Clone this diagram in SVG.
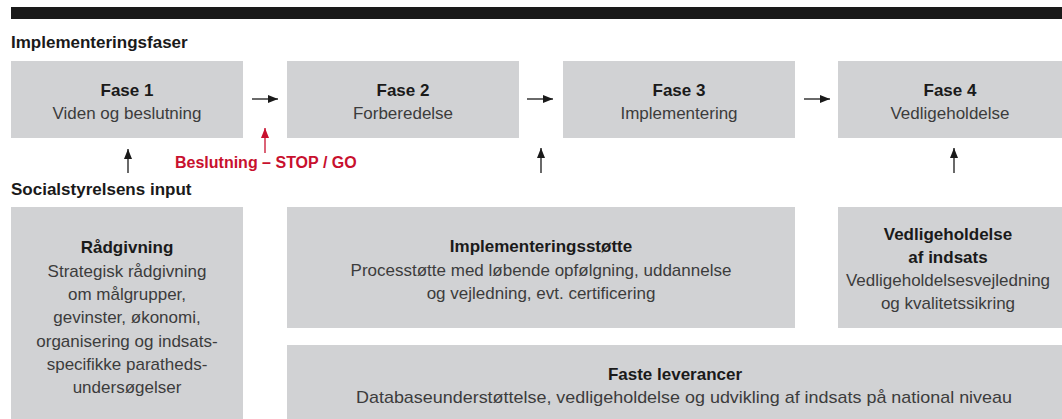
<svg xmlns="http://www.w3.org/2000/svg" width="1062" height="419" viewBox="0 0 1062 419">
  <defs>
    <style>
      .box { fill: #d1d2d4; }
      .hdr { font-family: "Liberation Sans", Arial, sans-serif; font-weight: bold; font-size: 17px; fill: #1a1a1a; }
      .ttl { font-family: "Liberation Sans", Arial, sans-serif; font-weight: bold; font-size: 17px; fill: #1a1a1a; text-anchor: middle; }
      .txt { font-family: "Liberation Sans", Arial, sans-serif; font-size: 17px; fill: #3c3c3c; text-anchor: middle; }
      .red { font-family: "Liberation Sans", Arial, sans-serif; font-weight: bold; font-size: 16px; fill: #c8102e; }
      .ln { stroke: #1a1a1a; stroke-width: 1.3; fill: none; }
      .lnr { stroke: #c8102e; stroke-width: 1.3; fill: none; }
    </style>
    <marker id="ah" viewBox="0 0 10 8" refX="10" refY="4" markerWidth="10" markerHeight="8" markerUnits="userSpaceOnUse" orient="auto">
      <path d="M0,0 L10,4 L0,8 Z" fill="#1a1a1a"/>
    </marker>
    <marker id="ahr" viewBox="0 0 10 8" refX="10" refY="4" markerWidth="10" markerHeight="8" markerUnits="userSpaceOnUse" orient="auto">
      <path d="M0,0 L10,4 L0,8 Z" fill="#c8102e"/>
    </marker>
  </defs>

  <rect x="11" y="7" width="1051" height="12" fill="#1a1a1a"/>
  <text class="hdr" x="11" y="48">Implementeringsfaser</text>
  <text class="hdr" x="11" y="195">Socialstyrelsens input</text>
  <text class="red" x="175" y="168">Beslutning – STOP / GO</text>

  <g id="fase1">
    <rect class="box" x="11" y="61" width="232" height="77"/>
    <text class="ttl" x="127" y="96">Fase 1</text>
    <text class="txt" x="127" y="119">Viden og beslutning</text>
  </g>
  <g id="fase2">
    <rect class="box" x="287" y="61" width="232" height="77"/>
    <text class="ttl" x="403" y="96">Fase 2</text>
    <text class="txt" x="403" y="119">Forberedelse</text>
  </g>
  <g id="fase3">
    <rect class="box" x="563" y="61" width="232" height="77"/>
    <text class="ttl" x="679" y="96">Fase 3</text>
    <text class="txt" x="679" y="119">Implementering</text>
  </g>
  <g id="fase4">
    <rect class="box" x="838" y="61" width="224" height="77"/>
    <text class="ttl" x="950" y="96">Fase 4</text>
    <text class="txt" x="950" y="119">Vedligeholdelse</text>
  </g>

  <g id="raadgivning">
    <rect class="box" x="11" y="207" width="232" height="212"/>
    <text class="ttl" x="127" y="253">Rådgivning</text>
    <text class="txt" x="127" y="277">Strategisk rådgivning</text>
    <text class="txt" x="127" y="300">om målgrupper,</text>
    <text class="txt" x="127" y="323">gevinster, økonomi,</text>
    <text class="txt" x="127" y="347">organisering og indsats-</text>
    <text class="txt" x="127" y="370">specifikke paratheds-</text>
    <text class="txt" x="127" y="393">undersøgelser</text>
  </g>
  <g id="implementeringsstoette">
    <rect class="box" x="287" y="207" width="508" height="121"/>
    <text class="ttl" x="541" y="252">Implementeringsstøtte</text>
    <text class="txt" x="541" y="276">Processtøtte med løbende opfølgning, uddannelse</text>
    <text class="txt" x="541" y="299">og vejledning, evt. certificering</text>
  </g>
  <g id="vedligeholdelse">
    <rect class="box" x="838" y="207" width="224" height="121"/>
    <text class="ttl" x="948" y="240">Vedligeholdelse</text>
    <text class="ttl" x="948" y="263">af indsats</text>
    <text class="txt" x="948" y="286">Vedligeholdelsesvejledning</text>
    <text class="txt" x="948" y="309">og kvalitetssikring</text>
  </g>
  <g id="faste">
    <rect class="box" x="287" y="345" width="775" height="74"/>
    <text class="ttl" x="675" y="380">Faste leverancer</text>
    <text class="txt" x="684" y="403" textLength="656" lengthAdjust="spacingAndGlyphs">Databaseunderstøttelse, vedligeholdelse og udvikling af indsats på national niveau</text>
  </g>

  <g id="connectors">
    <line class="ln" x1="252" y1="99" x2="278" y2="99" marker-end="url(#ah)"/>
    <line class="ln" x1="527" y1="99" x2="553" y2="99" marker-end="url(#ah)"/>
    <line class="ln" x1="804" y1="99" x2="830" y2="99" marker-end="url(#ah)"/>
    <line class="lnr" x1="265" y1="153" x2="265" y2="128" marker-end="url(#ahr)"/>
    <line class="ln" x1="128" y1="173" x2="128" y2="149" marker-end="url(#ah)"/>
    <line class="ln" x1="541" y1="173" x2="541" y2="148" marker-end="url(#ah)"/>
    <line class="ln" x1="954" y1="173" x2="954" y2="148" marker-end="url(#ah)"/>
  </g>
</svg>
